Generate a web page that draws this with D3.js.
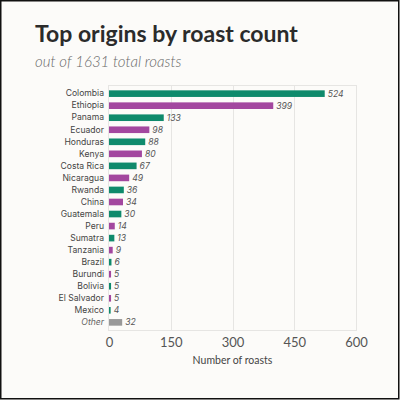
<!DOCTYPE html>
<html>
<head>
<meta charset="utf-8">
<script src="https://cdn.jsdelivr.net/npm/d3@7"></script>
<style>
  html, body { margin: 0; padding: 0; background: #fcfbf9; }
  svg { display: block; }
</style>
</head>
<body>
<svg id="chart"></svg>
<script>
// Data
const origins = ['Colombia', 'Ethiopia', 'Panama', 'Ecuador', 'Honduras', 'Kenya', 'Costa Rica',
  'Nicaragua', 'Rwanda', 'China', 'Guatemala', 'Peru', 'Sumatra', 'Tanzania', 'Brazil',
  'Burundi', 'Bolivia', 'El Salvador', 'Mexico', 'Other'];
const counts = [524, 399, 133, 98, 88, 80, 67, 49, 36, 34, 30, 14, 13, 9, 6, 5, 5, 5, 4, 32];
const xTicks = [0, 150, 300, 450, 600];
const totalRoasts = 1631;

const green = '#0f8a6c';
const purple = '#a3479f';
const grey = '#999999';

const data = origins.map((name, i) => ({ name, value: counts[i], i }));

const width = 400, height = 400;
const margin = { top: 86, right: 44, bottom: 70, left: 109 };
const innerWidth = width - margin.left - margin.right;
const innerHeight = height - margin.top - margin.bottom;

const svg = d3.select('#chart').attr('width', width).attr('height', height);

// Background with a dark frame
svg.append('rect')
  .attr('x', 0.75).attr('y', 0.75)
  .attr('width', width - 2).attr('height', height - 2)
  .attr('fill', '#fcfbf9')
  .attr('stroke', '#111').attr('stroke-width', 1.5);

// Title and subtitle
svg.append('text')
  .attr('x', 35).attr('y', 42)
  .attr('fill', '#2b2b2b')
  .style('font-family', 'Lato, sans-serif')
  .style('font-weight', '700')
  .style('font-size', '23px')
  .text('Top origins by roast count');

svg.append('text')
  .attr('x', 35).attr('y', 67)
  .attr('fill', '#6a6a6a')
  .style('font-family', 'Lato, sans-serif')
  .style('font-weight', '300')
  .style('font-style', 'italic')
  .style('font-size', '15px')
  .text(`out of ${totalRoasts} total roasts`);

const g = svg.append('g').attr('transform', `translate(${margin.left},${margin.top})`);

const x = d3.scaleLinear().domain([0, 600]).range([0, innerWidth]);
const y = d3.scaleBand().domain(origins).range([0, innerHeight])
  .paddingInner(0.45).paddingOuter(0.36);

// Plot frame + vertical grid
g.append('rect')
  .attr('x', -0.5).attr('y', -0.5)
  .attr('width', innerWidth + 1).attr('height', innerHeight + 1)
  .attr('fill', 'none').attr('stroke', '#e6e5e3');

g.append('g')
  .selectAll('line')
  .data(xTicks.slice(1, -1))
  .join('line')
  .attr('x1', d => Math.round(x(d)) + 0.5).attr('x2', d => Math.round(x(d)) + 0.5)
  .attr('y1', 0).attr('y2', innerHeight)
  .attr('stroke', '#e6e5e3');

// X axis labels
const xAxis = g.append('g')
  .attr('transform', `translate(0,${innerHeight})`)
  .call(d3.axisBottom(x).tickValues(xTicks).tickSize(0).tickPadding(8));
xAxis.select('.domain').remove();
xAxis.selectAll('text')
  .attr('fill', '#555')
  .style('font-family', 'Lato, sans-serif')
  .style('font-size', '13px');

svg.append('text')
  .attr('x', margin.left + innerWidth / 2).attr('y', 364)
  .attr('text-anchor', 'middle')
  .attr('fill', '#444')
  .style('font-family', 'Lato, sans-serif')
  .style('font-size', '10.5px')
  .text('Number of roasts');

// Category labels
const yAxis = g.append('g')
  .call(d3.axisLeft(y).tickSize(0).tickPadding(5));
yAxis.select('.domain').remove();
yAxis.selectAll('text')
  .attr('fill', d => d === 'Other' ? '#666' : '#444')
  .style('font-family', 'Inter, sans-serif')
  .style('font-style', d => d === 'Other' ? 'italic' : 'normal')
  .style('font-size', '8.6px');

// Bars
const colorOf = d => d.name === 'Other' ? grey : (d.i % 2 === 0 ? green : purple);

g.selectAll('.bar')
  .data(data)
  .join('rect')
  .attr('class', 'bar')
  .attr('x', x(0))
  .attr('y', d => y(d.name))
  .attr('width', d => x(d.value) - x(0))
  .attr('height', y.bandwidth())
  .attr('fill', colorOf);

// Value labels
g.selectAll('.val')
  .data(data)
  .join('text')
  .attr('class', 'val')
  .attr('x', d => x(d.value) + 3)
  .attr('y', d => y(d.name) + y.bandwidth() / 2)
  .attr('dy', '0.35em')
  .attr('fill', '#555')
  .style('font-family', 'Inter, sans-serif')
  .style('font-style', 'italic')
  .style('font-size', '8.6px')
  .text(d => d.value);
</script>
</body>
</html>
